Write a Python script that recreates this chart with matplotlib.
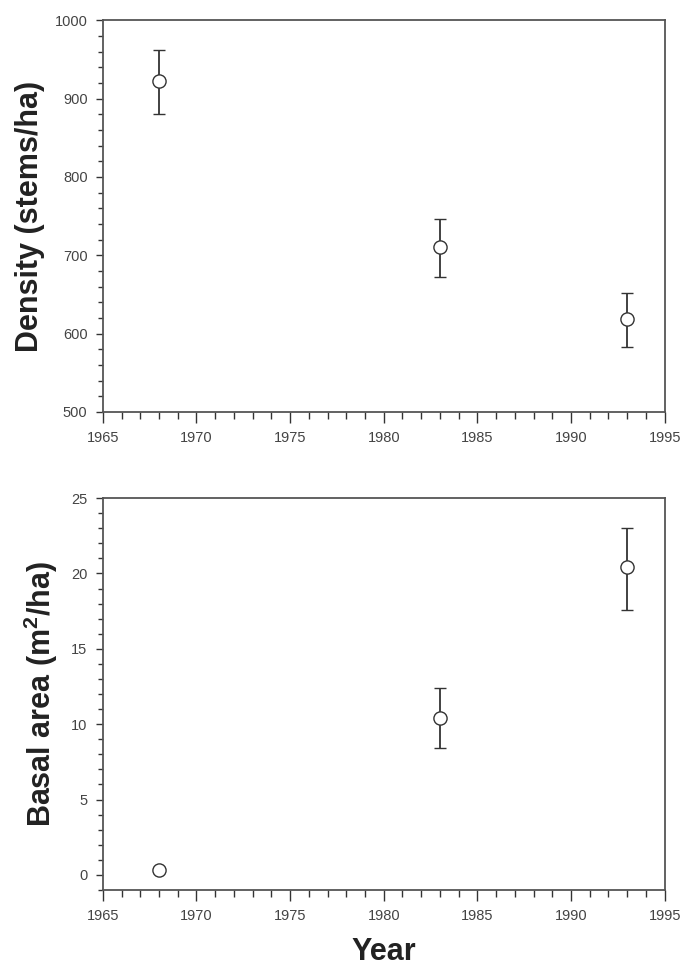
import numpy as np
import matplotlib.pyplot as plt
from matplotlib.ticker import MultipleLocator

years = [1968, 1983, 1993]

density = [922, 710, 619]
density_lo = [880, 672, 583]
density_hi = [962, 746, 652]

basal = [0.3, 10.4, 20.4]
basal_lo = [0.3, 8.4, 17.6]
basal_hi = [0.3, 12.4, 23.0]

plt.rcParams['font.family'] = ['Liberation Sans', 'DejaVu Sans']
plt.rcParams['mathtext.fontset'] = 'custom'
plt.rcParams['mathtext.rm'] = 'Liberation Sans'
plt.rcParams['mathtext.bf'] = 'Liberation Sans:bold'
ink = '#333333'


def draw_panel(ax, y, lo, hi, ylim, major, minor):
    yerr = [np.array(y) - np.array(lo), np.array(hi) - np.array(y)]
    ax.errorbar(years, y, yerr=yerr, fmt='o', color=ink, mfc='white', mec=ink,
                ms=9.5, mew=1.0, elinewidth=1.3, capsize=4.3, capthick=1.3)
    ax.set_xlim(1965, 1995)
    ax.set_ylim(*ylim)
    ax.xaxis.set_major_locator(MultipleLocator(5))
    ax.xaxis.set_minor_locator(MultipleLocator(1))
    ax.yaxis.set_major_locator(MultipleLocator(major))
    ax.yaxis.set_minor_locator(MultipleLocator(minor))
    ax.tick_params(which='both', direction='out', color=ink, labelcolor='#444444',
                   labelsize=10.5, top=False, right=False, width=1.0, pad=6)
    ax.tick_params(axis='x', which='major', length=8)
    ax.tick_params(axis='x', which='minor', length=5)
    ax.tick_params(axis='y', which='major', length=5)
    ax.tick_params(axis='y', which='minor', length=3.5)
    for s in ax.spines.values():
        s.set_color('#555555')
        s.set_linewidth(1.3)


fig = plt.figure(figsize=(6.81, 9.69), dpi=100)

ax1 = fig.add_axes([0.151, 0.575, 0.825, 0.404])
draw_panel(ax1, density, density_lo, density_hi, (500, 1000), 100, 20)
ax1.set_ylabel('Density (stems/ha)', fontsize=22, fontweight='bold', color='#222222')
ax1.yaxis.set_label_coords(-0.103, 0.5)

ax2 = fig.add_axes([0.151, 0.0815, 0.825, 0.4045])
draw_panel(ax2, basal, basal_lo, basal_hi, (-1, 25), 5, 1)
ax2.set_ylabel('Basal area (m$^{\\mathbf{2}}$/ha)', fontsize=22, fontweight='bold', color='#222222')
ax2.yaxis.set_label_coords(-0.077, 0.5)
ax2.set_xlabel('Year', fontsize=22, fontweight='bold', color='#222222', labelpad=10)

fig.savefig('out.png', dpi=100)
